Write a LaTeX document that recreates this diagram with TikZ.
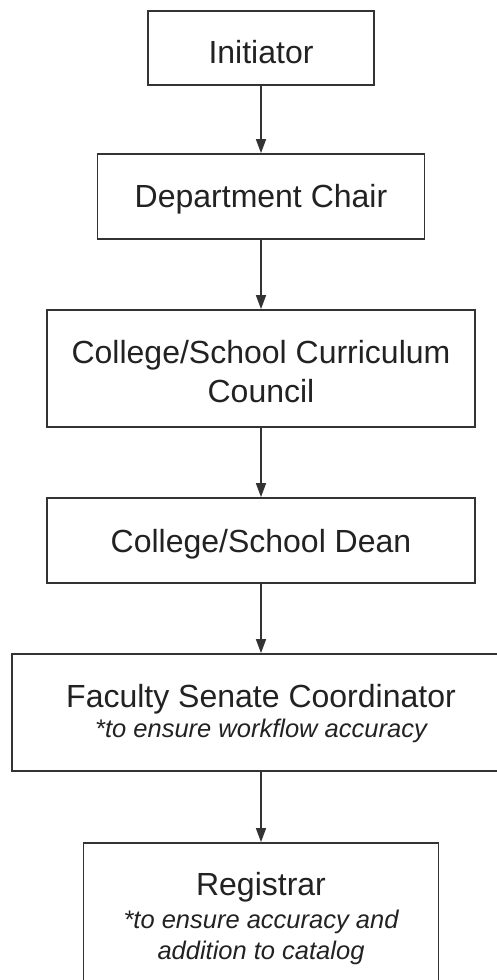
\documentclass[tikz,border=0pt]{standalone}
\usepackage{fontspec}
\setmainfont{Liberation Sans}
\usetikzlibrary{arrows.meta}
\definecolor{linec}{HTML}{333333}
\definecolor{textc}{HTML}{222222}
\tikzset{
  box/.style={draw=linec, line width=1.8pt, fill=white, inner sep=0pt},
  maintxt/.style={anchor=base, text=textc, inner sep=0pt, font=\fontsize{32}{38}\selectfont},
  subtxt/.style={anchor=base, text=textc, inner sep=0pt, font=\fontsize{25.5}{31}\selectfont\itshape},
  arr/.style={draw=linec, line width=1.6pt, -{Triangle[length=14pt,width=10pt]}}
}
\begin{document}
\begin{tikzpicture}[x=1pt,y=-1pt]
\useasboundingbox (0,0) rectangle (497,980);
\clip (0,0) rectangle (497,980);
\node[box, minimum width=226pt, minimum height=74pt] (init) at (261,48) {};
\node[box, minimum width=327pt, minimum height=85pt] (chair) at (261,196.5) {};
\node[box, minimum width=428pt, minimum height=117pt] (council) at (261,368.5) {};
\node[box, minimum width=428pt, minimum height=85pt] (dean) at (261,540.5) {};
\node[box, minimum width=498pt, minimum height=117pt] (fsc) at (261,712.5) {};
\node[box, minimum width=355pt, minimum height=152pt] (reg) at (261,919) {};

\node[maintxt] (t1) at (261,63) {Initiator};
\node[maintxt] (t2) at (261,207) {Department Chair};
\node[maintxt] (t3a) at (261,363) {College/School Curriculum};
\node[maintxt] (t3b) at (261,402) {Council};
\node[maintxt] (t4) at (261,552) {College/School Dean};
\node[maintxt] (t5a) at (261,707) {Faculty Senate Coordinator};
\node[subtxt] (t5b) at (261,737) {*to ensure workflow accuracy};
\node[maintxt] (t6a) at (261,895) {Registrar};
\node[subtxt] (t6b) at (261,928) {*to ensure accuracy and};
\node[subtxt] (t6c) at (261,959) {addition to catalog};

\draw[arr] (init.south) -- (chair.north);
\draw[arr] (chair.south) -- (council.north);
\draw[arr] (council.south) -- (dean.north);
\draw[arr] (dean.south) -- (fsc.north);
\draw[arr] (fsc.south) -- (reg.north);
\end{tikzpicture}
\end{document}
